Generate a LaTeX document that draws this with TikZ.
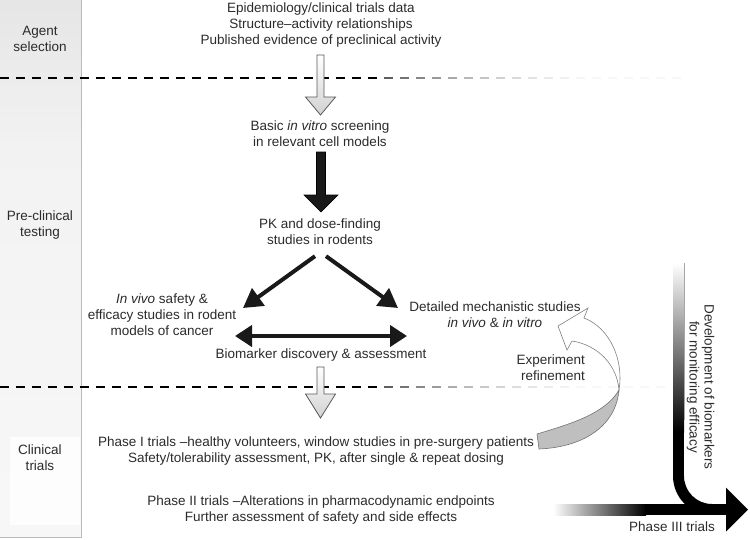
\documentclass[tikz,border=0pt]{standalone}
\usepackage{fontspec}
\setmainfont{Liberation Sans}
\usetikzlibrary{arrows.meta,calc}
\definecolor{txt}{HTML}{2B2B2B}
\newcommand\blockarrow[6]{%
  \path[#1] let \p1=(#2), \p2=(#3) in
    (\x1-#4,\y1) -- (\x1+#4,\y1) -- (\x1+#4,\y2+#6) -- (\x1+#5,\y2+#6) --
    (\x1,\y2) -- (\x1-#5,\y2+#6) -- (\x1-#4,\y2+#6) -- cycle;}
\tikzset{
  lbl/.style={text=txt, font=\fontsize{13.5}{16}\selectfont, inner sep=0pt, align=center},
  hollow/.style={top color=white, bottom color=black!18, draw=black!65, line width=0.8pt},
  solidarr/.style={fill=black!90, draw=black, line width=0.6pt},
  fatarrow/.style={line width=4pt, draw=black!90, -{Triangle[length=19pt,width=21pt]}},
  dblarrow/.style={line width=4pt, draw=black!90, {Triangle[length=17pt,width=21pt]}-{Triangle[length=17pt,width=21pt]}},
}
\begin{document}
\begin{tikzpicture}[x=1pt,y=-1pt]
\useasboundingbox (0,0) rectangle (750,539);
% left column
\shade[top color=black!10, bottom color=black!5] (0,0) rectangle (81,150);
\shade[top color=black!5, bottom color=black!3] (0,149.5) rectangle (81,537);
\fill[white, opacity=0.8] (10,437) rectangle (80,525);
\draw[black!27, line width=1pt] (81,0) -- (81,537) -- (0,537);
% dashed separators fading to the right
\foreach \yy/\xe in {78/672, 387/660} {
  \foreach \i in {0,...,42} {
    \pgfmathsetmacro\xs{\i*16}
    \pgfmathsetmacro\pc{\xs<372 ? 100 : max(3, 70*(1-min(1,(\xs-372)/(\xe-372)))^2.5)}
    \pgfmathsetmacro\lw{\xs<372 ? 2.4 : 1.7}
    \draw[black!\pc, line width=\lw pt] (\xs,\yy) -- (\xs+9,\yy);
  }
}
% stage labels
\node[lbl] (agent) at (40,39) {Agent\\selection};
\node[lbl] (precl) at (40,225) {Pre-clinical\\testing};
\node[lbl] (clin) at (40,458) {Clinical\\trials};
% main texts
\node[lbl] (epi) at (321,25) {Epidemiology/clinical trials data\\Structure--activity relationships\\Published evidence of preclinical activity};
\node[lbl] (basic) at (320,134) {Basic \textit{in vitro} screening\\in relevant cell models};
\node[lbl] (pk) at (320,232) {PK and dose-finding\\studies in rodents};
\node[lbl] (invivo) at (162,315) {\textit{In vivo} safety \&\\efficacy studies in rodent\\models of cancer};
\node[lbl] (detail) at (495,315) {Detailed mechanistic studies\\\textit{in vivo} \& \textit{in vitro}};
\node[lbl] (biom) at (321,355) {Biomarker discovery \& assessment};
\node[lbl, align=right, anchor=east] (expt) at (585,368) {Experiment\\refinement};
\node[lbl] (ph1) at (316,451) {Phase I trials --healthy volunteers, window studies in pre-surgery patients\\Safety/tolerability assessment, PK, after single \& repeat dosing};
\node[lbl] (ph2) at (321,510) {Phase II trials --Alterations in pharmacodynamic endpoints\\Further assessment of safety and side effects};
\node[lbl] (ph3) at (672,527) {Phase III trials};
\node[lbl, font=\fontsize{13.5}{15}\selectfont, rotate=-90] (dev) at (700.5,387) {Development of biomarkers\\for monitoring efficacy};
% block arrows
\coordinate (a1s) at (320.5,55);  \coordinate (a1e) at (320.5,115);
\coordinate (a2s) at (321,152);   \coordinate (a2e) at (321,212);
\coordinate (a3s) at (320.5,367); \coordinate (a3e) at (320.5,418);
\blockarrow{hollow}{a1s}{a1e}{3.5pt}{15pt}{18pt}
\blockarrow{solidarr}{a2s}{a2e}{4.5pt}{17pt}{17pt}
\blockarrow{hollow}{a3s}{a3e}{3.5pt}{15pt}{24pt}
% diagonal and double arrows
\coordinate (ivtip) at (243,308);
\coordinate (dmtip) at (398,308);
\coordinate (bmL) at (235,336);
\coordinate (bmR) at (407,336);
\draw[fatarrow] ($(pk.south)+(-5,11)$) -- (ivtip);
\draw[fatarrow] ($(pk.south)+(6,11)$) -- (dmtip);
\draw[dblarrow] (bmL) -- (bmR);
% refinement ribbon arrow
\filldraw[fill=black!25, draw=black!55, line width=0.6pt]
  (537,434) .. controls (570,424) and (605,414) .. (619,390)
  .. controls (616,425) and (585,447) .. (539,449) -- cycle;
\filldraw[fill=white, draw=black!50, line width=0.6pt]
  (619,390) .. controls (624,360) and (610,328) .. (584,318)
  -- (588,308) -- (558,326) -- (567,350) -- (572,341)
  .. controls (598,345) and (617,365) .. (619,390) -- cycle;
% big L-shaped arrow
\shade[top color=white, bottom color=black] (673,263) rectangle (684,432);
\draw[black!35, line width=0.6pt] (684,263) -- (684,420);
\fill[black] (673,431) rectangle (684,477);
\fill[black] (673,476) arc[start angle=180,end angle=90,radius=39]
  -- (712,504) arc[start angle=90,end angle=180,radius=28] -- cycle;
\shade[left color=white, right color=black] (553,504) rectangle (646,515);
\fill[black] (645,504) rectangle (727,515);
\fill[black] (726,487.5) -- (748,509.5) -- (726,531.5) -- cycle;
\end{tikzpicture}
\end{document}
